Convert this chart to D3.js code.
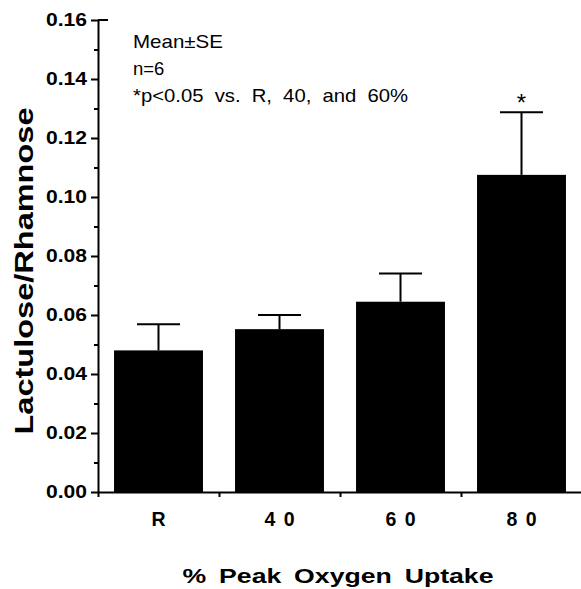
<html>
<head>
<script src="https://d3js.org/d3.v7.min.js"></script>
<style>
  body { margin: 0; background: #fff; }
  text { font-family: "Liberation Sans", Arial, Helvetica, sans-serif; fill: #000; }
  .axis path, .axis line { stroke: #000; stroke-width: 2; }
</style>
</head>
<body>
<svg class="chart" width="581" height="589"></svg>
<script>
// data
const categories = ["R", "40", "60", "80"];
const tickLabels = ["R", "4 0", "6 0", "8 0"];
const means = [0.048, 0.0552, 0.0645, 0.1075];
const errors = [0.0089, 0.0048, 0.0096, 0.0212];
const yTicks = [0, 0.02, 0.04, 0.06, 0.08, 0.10, 0.12, 0.14, 0.16];
const yMinor = [0.01, 0.03, 0.05, 0.07, 0.09, 0.11, 0.13, 0.15];
const significant = [false, false, false, true];
const notes = ["Mean\u00B1SE", "n=6", "*p<0.05 vs. R, 40, and 60%"];

const svg = d3.select(".chart");

const y = d3.scaleLinear().domain([0, 0.16]).range([492, 20]);
const x = d3.scaleBand().domain(categories).range([98, 582]);
const xb = d3.scaleLinear().domain([0, 4]).range([98, 582]);
const barW = x.bandwidth() * 0.735;
const capW = 43;

// bars
svg.append("g").selectAll("rect")
  .data(means)
  .enter().append("rect")
    .attr("x", (d, i) => x(categories[i]) + (x.bandwidth() - barW) / 2)
    .attr("y", d => y(d))
    .attr("width", barW)
    .attr("height", d => y(0) - y(d))
    .attr("fill", "#000");

// error bars
const eb = svg.append("g").attr("stroke", "#000").attr("stroke-width", 2);
means.forEach((m, i) => {
  const cx = x(categories[i]) + x.bandwidth() / 2;
  eb.append("line").attr("x1", cx).attr("x2", cx)
    .attr("y1", y(m)).attr("y2", y(m + errors[i]));
  eb.append("line").attr("x1", cx - capW / 2).attr("x2", cx + capW / 2)
    .attr("y1", y(m + errors[i])).attr("y2", y(m + errors[i]));
  if (significant[i]) {
    svg.append("text")
      .attr("x", cx).attr("y", y(m + errors[i]) - 1)
      .attr("text-anchor", "middle")
      .attr("font-size", 24)
      .text("*");
  }
});

// y axis
const yAxis = svg.append("g").attr("class", "axis")
  .attr("transform", "translate(98,0)")
  .call(d3.axisLeft(y).tickValues(yTicks).tickFormat(d3.format(".2f"))
        .tickSize(7).tickSizeOuter(0).tickPadding(4));
yAxis.selectAll("text")
  .attr("font-size", 17.5).attr("font-weight", "bold")
  .attr("textLength", 41).attr("lengthAdjust", "spacingAndGlyphs")
  .style("font-family", "'Liberation Sans', Arial, sans-serif");
svg.append("g").attr("class", "axis")
  .attr("transform", "translate(98,0)")
  .call(d3.axisLeft(y).tickValues(yMinor).tickFormat("").tickSize(4).tickSizeOuter(0))
  .select(".domain").remove();
// small cap at top of y axis
svg.append("line")
  .attr("x1", 98).attr("x2", 108)
  .attr("y1", y(0.16)).attr("y2", y(0.16))
  .attr("stroke", "#000").attr("stroke-width", 2);

// x axis: ticks between categories
svg.append("g").attr("class", "axis")
  .attr("transform", "translate(0,492)")
  .call(d3.axisBottom(xb).tickValues([0, 1, 2, 3]).tickFormat("")
        .tickSize(5).tickSizeOuter(0));
// x labels at category centres
const xLab = svg.append("g")
  .attr("transform", "translate(0,492)")
  .call(d3.axisBottom(x).tickSize(0).tickPadding(20).tickFormat((d, i) => tickLabels[i]));
xLab.select(".domain").remove();
xLab.selectAll("text")
  .attr("font-size", 19.5).attr("font-weight", "bold")
  .style("font-family", "'Liberation Sans', Arial, sans-serif")
  .attr("dy", 0).attr("y", 34)
  .attr("word-spacing", 3)
  .attr("xml:space", "preserve")
  .style("white-space", "pre");

// axis titles
svg.append("text")
  .attr("x", 338).attr("y", 583)
  .attr("text-anchor", "middle")
  .attr("font-size", 19.5).attr("font-weight", "bold")
  .attr("word-spacing", 4)
  .attr("textLength", 311).attr("lengthAdjust", "spacingAndGlyphs")
  .text("% Peak Oxygen Uptake");

svg.append("text")
  .attr("transform", "translate(33,271) rotate(-90)")
  .attr("text-anchor", "middle")
  .attr("font-size", 26).attr("font-weight", "bold")
  .attr("textLength", 327).attr("lengthAdjust", "spacingAndGlyphs")
  .text("Lactulose/Rhamnose");

// note block
const noteLen = [90, null, 275];
notes.forEach((t, i) => {
  const tx = svg.append("text")
    .attr("x", 133).attr("y", 48 + i * 27)
    .attr("font-size", 18.5)
    .attr("word-spacing", i === 2 ? 5 : 0)
    .text(t);
  if (noteLen[i]) tx.attr("textLength", noteLen[i]).attr("lengthAdjust", "spacingAndGlyphs");
});
</script>
</body>
</html>
